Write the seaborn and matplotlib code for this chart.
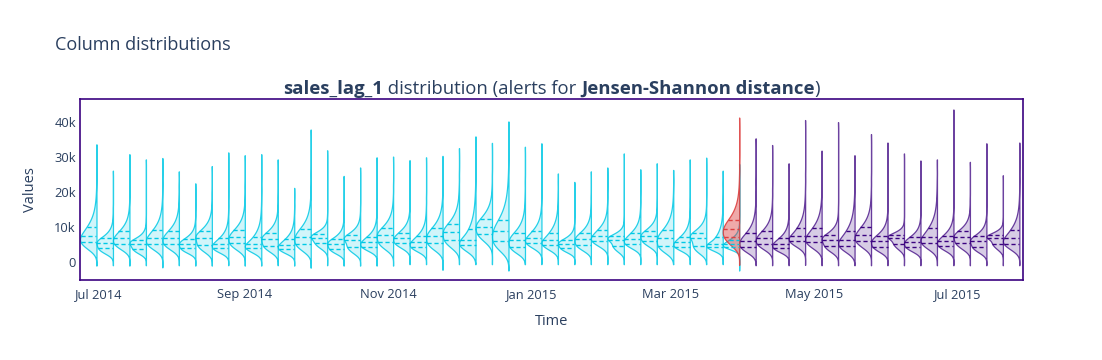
import numpy as np
import pandas as pd
import matplotlib
matplotlib.use('Agg')
import matplotlib.pyplot as plt
import matplotlib.dates as mdates
import matplotlib.transforms as mtransforms
from matplotlib.colors import to_rgba
import seaborn as sns
from statistics import NormalDist

sns.set_style('white')
plt.rcParams['font.family'] = ['Open Sans', 'DejaVu Sans']

# per-chunk stats of sales_lag_1 (in thousands)
# reference period, weekly chunks
ref_min = [-0.9, -0.8, -0.9, -0.8, -1.4, -0.8, -0.9, -0.9, -0.8, -0.9,
           -0.9, -0.8, -0.9, -1.5, -0.8, -0.9, -0.9, -0.9, -0.9, -0.5,
           -0.5, -2.1, -0.5, -0.5, -0.5, -2.3, -0.5, -0.5, -0.5, -0.5,
           -0.5, -0.5, -0.5, -0.5, -0.5, -0.5, -0.5, -0.5, -0.5, -2.3]
ref_q1 = [5.7, 4.0, 5.3, 3.9, 5.3, 5.3, 4.0, 5.0, 4.0, 5.4,
          4.1, 4.8, 3.8, 5.3, 5.5, 3.9, 4.5, 4.5, 5.7, 5.5,
          4.4, 5.5, 6.4, 4.9, 8.1, 6.0, 4.5, 5.5, 5.0, 4.1,
          5.0, 6.0, 4.7, 5.3, 6.0, 4.8, 4.5, 4.7, 4.4, 4.5]
ref_med = [7.6, 5.5, 6.9, 5.3, 7.0, 7.0, 5.3, 7.0, 5.2, 7.2,
           5.3, 6.6, 5.0, 7.3, 7.0, 5.3, 6.4, 5.7, 7.7, 6.9,
           5.7, 7.5, 8.6, 6.4, 10.2, 8.8, 6.4, 6.9, 6.4, 5.3,
           6.6, 7.4, 6.4, 6.6, 7.5, 6.9, 5.7, 6.9, 5.3, 5.3]
ref_q3 = [10.2, 6.9, 8.8, 6.4, 9.2, 9.0, 6.6, 8.8, 6.8, 9.2,
          7.3, 8.3, 6.6, 9.6, 8.1, 6.6, 7.8, 7.2, 9.7, 8.5,
          7.4, 9.7, 10.9, 9.4, 12.4, 12.1, 8.5, 8.8, 8.5, 6.4,
          8.3, 9.2, 7.4, 8.3, 9.0, 9.2, 7.3, 8.5, 7.3, 6.4]
ref_max = [33.6, 26.1, 30.8, 29.3, 29.7, 25.9, 22.5, 27.4, 31.3, 30.5,
           30.8, 29.3, 21.2, 37.8, 31.9, 24.6, 27.0, 29.9, 30.1, 29.1,
           29.9, 30.3, 32.5, 33.6, 34.0, 40.1, 32.9, 33.9, 25.3, 22.9,
           25.9, 27.0, 31.0, 26.5, 28.2, 26.3, 29.3, 29.8, 26.1, 28.0]

# analysis period, weekly chunks (first one raised a Jensen-Shannon alert)
ana_min = [-0.7, -0.8, -0.8, -0.8, -0.7, -0.8, -0.8, -0.8, -0.8,
           -0.8, -0.8, -0.8, -0.8, -0.8, -0.8, -0.8, -0.8, -0.8]
ana_q1 = [7.2, 4.5, 5.3, 4.1, 6.0, 5.7, 4.7, 4.7, 6.0,
          4.5, 5.3, 4.4, 5.5, 4.7, 5.5, 4.4, 5.3, 5.3]
ana_med = [9.5, 6.2, 6.9, 5.3, 7.4, 7.4, 6.4, 6.4, 7.8,
           6.0, 6.9, 5.7, 7.2, 6.0, 7.2, 6.0, 6.9, 6.9]
ana_q3 = [12.1, 8.3, 8.8, 6.8, 9.7, 9.7, 7.8, 9.0, 10.0,
          7.6, 7.8, 7.1, 9.7, 7.6, 8.8, 7.4, 7.8, 9.2]
ana_max = [41.2, 35.3, 33.4, 28.2, 40.5, 31.8, 39.9, 30.5, 36.5,
           34.1, 31.0, 29.0, 29.3, 43.5, 28.6, 33.9, 24.8, 34.1]
ana_alert = [True] + [False] * 17

ref_dates = pd.date_range('2014-06-30', periods=len(ref_med), freq='7D')
ana_dates = pd.date_range('2015-03-30', periods=len(ana_med), freq='7D')

REF_COL = '#00c8e5'
ANA_COL = '#3b0280'
ALERT_COL = '#dd4040'
TEXT_COL = '#2a3f5f'

# the raw rows are not on the chart, so each chunk gets a skewed (log-normal
# like) pseudo sample with the read quartiles, plus its min and max, and
# seaborn's KDE draws the violin from that
z = np.array([NormalDist().inv_cdf((i + 0.5) / 400) for i in range(400)])


def chunk_sample(mn, q1, md, q3, mx):
    s = np.where(z < 0, np.log(md / q1), np.log(q3 / md)) / 0.6745
    return np.r_[mn, md * np.exp(z * s), mx] * 1000


def to_long(dates, mins, q1s, meds, q3s, maxs):
    parts = []
    for d, a, b, c, e, f in zip(dates, mins, q1s, meds, q3s, maxs):
        v = chunk_sample(a, b, c, e, f)
        parts.append(pd.DataFrame({'x': mdates.date2num(d), 'value': v}))
    return pd.concat(parts, ignore_index=True)


ref_df = to_long(ref_dates, ref_min, ref_q1, ref_med, ref_q3, ref_max)
ana_idx = [i for i, a in enumerate(ana_alert) if not a]
alert_idx = [i for i, a in enumerate(ana_alert) if a]
pick = lambda lst, idx: [lst[i] for i in idx]
ana_df = to_long(*[pick(l, ana_idx) for l in (list(ana_dates), ana_min, ana_q1, ana_med, ana_q3, ana_max)])
alert_df = to_long(*[pick(l, alert_idx) for l in (list(ana_dates), ana_min, ana_q1, ana_med, ana_q3, ana_max)])

fig = plt.figure(figsize=(11.02, 3.6), dpi=100)
ax = fig.add_axes([80 / 1102, 1 - 280 / 360, (1023.3 - 80) / 1102, (280 - 99.3) / 360])

# seaborn centres the half violin on the position; shift it so the flat
# side sits on the chunk date, like the plotly original
shift = mtransforms.Affine2D().translate(-3.5, 0) + ax.transData


def draw(sub, col, fill_alpha, edge_alpha, width):
    n0 = len(ax.collections)
    l0 = len(ax.lines)
    sns.violinplot(data=sub, x='x', y='value', orient='x', native_scale=True,
                   split=True, inner='quart', cut=0, density_norm='width',
                   width=width, gridsize=250, color=col, linecolor=col,
                   linewidth=1, saturation=1, ax=ax)
    for c in ax.collections[n0:]:
        c.set_facecolor(to_rgba(col, fill_alpha))
        c.set_edgecolor(to_rgba(col, edge_alpha))
        c.set_linewidth(0.9)
        c.set_transform(shift)
    for ln in ax.lines[l0:]:
        ln.set_dashes([3, 2])
        ln.set_linewidth(1)
        ln.set_transform(shift)


draw(ref_df, REF_COL, 0.18, 0.85, 1.0)
draw(ana_df, ANA_COL, 0.2, 0.75, 1.0)
draw(alert_df, ALERT_COL, 0.45, 0.9, 7.0)

ax.set_xlim(mdates.date2num(pd.Timestamp('2014-06-23')),
            mdates.date2num(pd.Timestamp('2015-07-28 16:00')))
ax.set_ylim(-5000, 46400)
ax.xaxis.set_major_locator(mdates.MonthLocator(bymonth=[1, 3, 5, 7, 9, 11]))
ax.xaxis.set_major_formatter(mdates.DateFormatter('%b %Y'))
ax.set_yticks([0, 10000, 20000, 30000, 40000])
ax.set_yticklabels(['0', '10k', '20k', '30k', '40k'])
ax.tick_params(axis='x', length=0, labelsize=9.3, labelcolor=TEXT_COL, pad=6)
ax.tick_params(axis='y', length=0, labelsize=9.3, labelcolor=TEXT_COL, pad=3)
for sp in ax.spines.values():
    sp.set_color(ANA_COL)
    sp.set_linewidth(1.2)
ax.set_xlabel('Time', fontsize=10.5, color=TEXT_COL, labelpad=9)
ax.set_ylabel('Values', fontsize=10.5, color=TEXT_COL, labelpad=12)

fig.text(55 / 1102, 1 - 45 / 360, 'Column distributions', fontsize=13,
         color=TEXT_COL, va='center', ha='left')

# subplot title with bold parts
kw = dict(fontsize=13.3, color=TEXT_COL, va='bottom', ha='left')
t0 = fig.text(0, 1 - 97 / 360, 'sales_lag_1', fontweight='bold', **kw)
t1 = fig.text(0, 0, ' distribution (alerts for ', **kw)
t2 = fig.text(0, 0, 'Jensen-Shannon distance', fontweight='bold', **kw)
t3 = fig.text(0, 0, ')', **kw)
fig.canvas.draw()
r = fig.canvas.get_renderer()
parts = [t0, t1, t2, t3]
widths = [t.get_window_extent(r).width for t in parts]
x = 551.5 - sum(widths) / 2
for t, w in zip(parts, widths):
    t.set_x(x / 1102)
    t.set_y(1 - 98 / 360)
    x += w

fig.savefig('out.png', dpi=100)
